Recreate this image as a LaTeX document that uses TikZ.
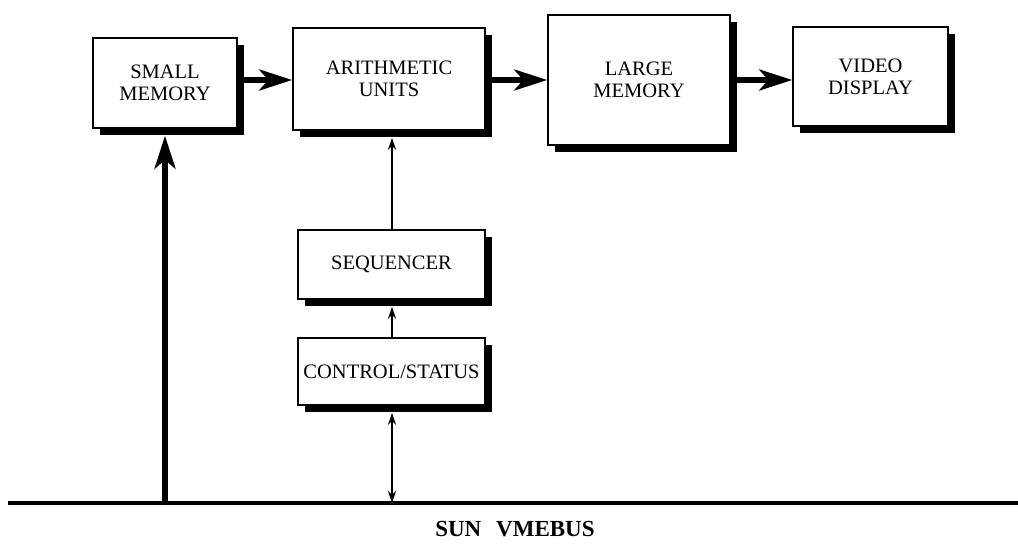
\documentclass[tikz,border=0pt]{standalone}
\usepackage{fontspec}
\setmainfont{Liberation Serif}
\usetikzlibrary{arrows.meta}
\begin{document}
\begin{tikzpicture}[x=1pt,y=-1pt,
  blockbox/.style={draw=black, line width=1.6pt, fill=white, inner sep=0pt, align=center,
    font=\fontsize{20.5}{22}\selectfont,
    preaction={fill=black, transform canvas={shift={(7pt,-7pt)}}}},
  thickarr/.style={line width=5.5pt, -{Stealth[length=33pt,width=21pt,inset=9pt]}},
  thinarr/.style={line width=1.8pt, -{Stealth[length=12pt,width=8pt]}},
  thindbl/.style={line width=1.6pt, {Stealth[length=12pt,width=8pt]}-{Stealth[length=12pt,width=8pt]}}]
\useasboundingbox (0,0) rectangle (1018,554);
% boxes
\node[blockbox, minimum width=144pt, minimum height=90pt] (small) at (165,83) {SMALL\\MEMORY};
\node[blockbox, minimum width=192pt, minimum height=102pt] (arith) at (389,79) {ARITHMETIC\\UNITS};
\node[blockbox, minimum width=182pt, minimum height=130pt] (large) at (639,80) {LARGE\\MEMORY};
\node[blockbox, minimum width=155pt, minimum height=99pt] (video) at (870.5,76.5) {VIDEO\\DISPLAY};
\node[blockbox, minimum width=187pt, minimum height=69pt] (seq) at (391.5,264.5) {SEQUENCER};
\node[blockbox, minimum width=187pt, minimum height=67pt] (ctrl) at (391.5,371.5) {CONTROL/STATUS};
% helper coordinates
\coordinate (row) at (0,80);
\coordinate (v) at (392,0);
\coordinate (busL) at (8,503);
\coordinate (busR) at (1018,503);
% bus
\draw[line width=3.5pt] (busL) -- (busR);
\node[font=\fontsize{23}{25}\selectfont\bfseries] (buslabel) at (515,529) {SUN\hspace{0.65em}VMEBUS};
% data path arrows
\draw[thickarr] (small.east |- row) -- (arith.west |- row);
\draw[thickarr] (arith.east |- row) -- (large.west |- row);
\draw[thickarr] (large.east |- row) -- (video.west |- row);
\draw[thickarr, shorten >=7pt] (small.south |- busL) -- (small.south);
% control arrows
\draw[thinarr, shorten >=7pt] (seq.north -| v) -- (arith.south -| v);
\draw[thinarr, shorten >=7pt] (ctrl.north -| v) -- (seq.south -| v);
\draw[thindbl, shorten <=7pt] (ctrl.south -| v) -- (busL -| v);
\end{tikzpicture}
\end{document}
